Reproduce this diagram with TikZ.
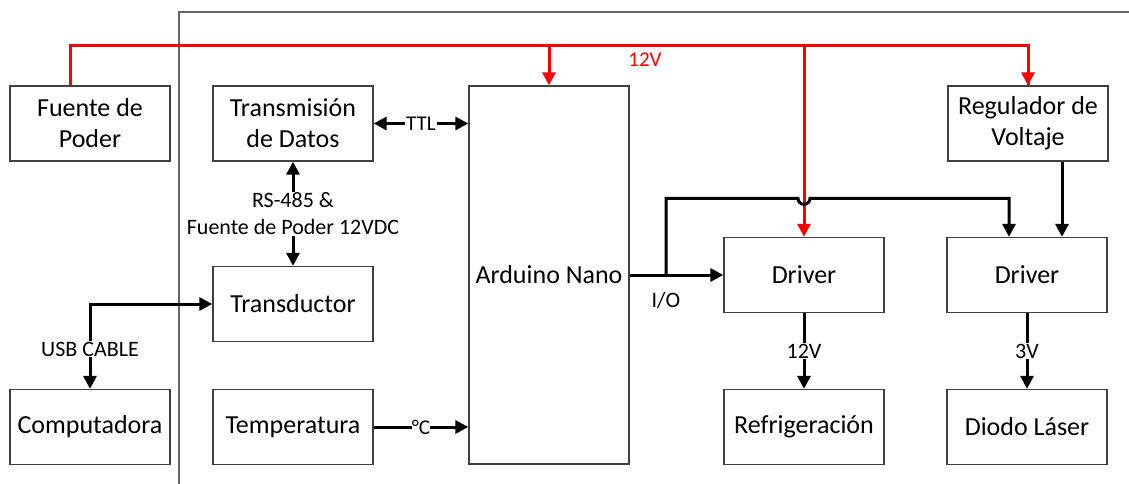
\documentclass[tikz,border=0pt]{standalone}
\usepackage{fontspec}
\setmainfont{Carlito}
\usetikzlibrary{arrows.meta,calc}
\definecolor{boxline}{HTML}{404040}
\definecolor{redline}{HTML}{FF0000}
\begin{document}
\begin{tikzpicture}[x=1pt,y=-1pt,
  blk/.style={draw=boxline,line width=1.3pt,minimum width=160pt,minimum height=75pt,align=center,inner sep=0pt,font=\fontsize{26}{31}\selectfont},
  conn/.style={line width=3pt,-{Triangle[length=13pt,width=13pt]}},
  bconn/.style={line width=3pt,{Triangle[length=13pt,width=13pt]}-{Triangle[length=13pt,width=13pt]}},
  rconn/.style={conn,draw=redline},
  lab/.style={fill=white,inner sep=1pt,align=center,font=\fontsize{22}{27}\selectfont},
  slab/.style={fill=white,inner sep=1pt,font=\fontsize{21}{25}\selectfont}]
\useasboundingbox[fill=white] (0,0) rectangle (1129,484);
\draw[draw=boxline!80,line width=1.3pt] (179,484) -- (179,12) -- (1129,12);
% boxes
\node[blk] (fuente) at (90,123.5) {Fuente de\\Poder};
\node[blk] (trans) at (293,123.5) {Transmisión\\de Datos};
\node[blk,minimum height=378pt] (ard) at (549,275) {Arduino Nano};
\node[blk] (reg) at (1028,123.5) {Regulador de\\Voltaje};
\node[blk] (transd) at (293,304) {Transductor};
\node[blk] (comp) at (90,427) {Computadora};
\node[blk] (temp) at (293,427) {Temperatura};
\node[blk] (drv1) at (804,275) {Driver};
\node[blk] (refr) at (804,427) {Refrigeración};
\node[blk] (drv2) at (1027,275) {Driver};
\node[blk] (diodo) at (1027,427) {Diodo Láser};
% red 12V bus
\coordinate (rs) at ($(fuente.north)+(-20,0)$);
\coordinate (rbus) at ($(rs)+(0,-40)$);
\draw[line width=3pt,redline] (rs) -- (rbus) -| ($(reg.north)+(0,0)$);
\draw[rconn] (rbus -| ard.north) -- (ard.north);
\draw[rconn] (rbus -| drv1.north) -- (drv1.north);
\draw[rconn] (rbus -| reg.north) -- (reg.north);
\node[text=redline,font=\fontsize{21}{25}\selectfont] (v12top) at (645,60) {12V};
% TTL
\draw[bconn] (trans.east) -- (trans.east -| ard.west) node[slab,midway] (ttl) {TTL};
% RS-485
\draw[bconn] (trans.south) -- (transd.north) node[lab,midway] (rs485) {RS-485 \&\\Fuente de Poder 12VDC};
% USB
\draw[bconn] (comp.north) |- (transd.west);
\node[lab] (usb) at (90,349) {USB CABLE};
% Temperatura
\draw[conn] (temp.east) -- (temp.east -| ard.west) node[slab,pos=0.5,inner sep=0pt] (deg) {°C};
% I/O
\draw[conn] (ard.east) -- (drv1.west);
\coordinate (br) at (666,275);
\node[font=\fontsize{22}{26}\selectfont] (io) at (666,300) {I/O};
\draw[conn] (br) |- ($(drv1.north)+(-6,-38.5)$) arc(180:0:6) -| ($(drv2.north)+(-18,0)$);
\draw[conn] ($(reg.south)+(34,0)$) -- ($(drv2.north)+(35,0)$);
% outputs
\draw[conn] (drv1.south) -- (refr.north) node[lab,midway] (v12) {12V};
\draw[conn] (drv2.south) -- (diodo.north) node[lab,midway] (v3) {3V};
\end{tikzpicture}
\end{document}
